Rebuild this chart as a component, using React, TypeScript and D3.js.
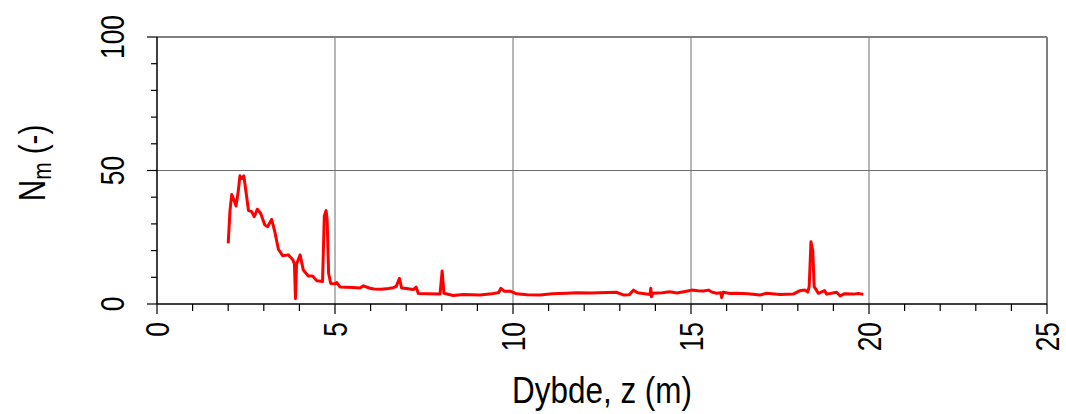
import React from "react";
import * as d3 from "d3";

const depth: number[] = [
  2.0, 2.05, 2.1, 2.16, 2.22, 2.28, 2.33, 2.38, 2.44, 2.5, 2.57, 2.66, 2.73, 2.82, 2.91, 3.03, 3.11, 3.22,
  3.31, 3.41, 3.53, 3.69, 3.81, 3.86, 3.89, 3.92, 4.02, 4.11, 4.25, 4.37, 4.49, 4.65, 4.7, 4.75, 4.78,
  4.82, 4.88, 5.0, 5.05, 5.14, 5.3, 5.51, 5.7, 5.8, 5.98, 6.1, 6.3, 6.5, 6.64, 6.72, 6.81, 6.87, 7.0,
  7.2, 7.28, 7.34, 7.6, 7.95, 8.01, 8.06, 8.32, 8.6, 9.07, 9.4, 9.6, 9.66, 9.75, 9.92, 10.1, 10.4,
  10.76, 11.1, 11.5, 11.8, 12.2, 12.63, 12.9, 13.1, 13.27, 13.38, 13.5, 13.85, 13.87, 13.89, 13.92,
  14.2, 14.4, 14.6, 14.8, 15.02, 15.2, 15.35, 15.49, 15.6, 15.72, 15.84, 15.86, 15.9, 16.1, 16.28,
  16.6, 16.94, 17.12, 17.5, 17.87, 18.06, 18.2, 18.28, 18.32, 18.37, 18.42, 18.46, 18.58, 18.75,
  18.81, 19.09, 19.19, 19.3, 19.56, 19.7, 19.84,
];
const nm: number[] = [
  22.7, 35, 41, 39, 36.7, 42, 48, 47, 48, 42, 35, 34.6, 32.7, 35.5, 34, 29.6, 29, 31.7,
  27, 20.5, 18.1, 18.4, 16.7, 15, 2, 15, 18.4, 12.7, 10.5, 10.5, 8.7, 8.4, 33, 35, 31.5,
  11.5, 7.7, 7.6, 8, 6.4, 6.3, 6.2, 6.0, 6.8, 5.9, 5.6, 5.5, 5.8, 6.1, 6.6, 9.6, 6.0, 5.8,
  5.4, 6.3, 3.9, 3.8, 3.7, 12.4, 4.0, 3.2, 3.6, 3.4, 3.8, 4.3, 5.9, 4.8, 4.8, 3.8, 3.5,
  3.4, 3.8, 4.0, 4.2, 4.1, 4.3, 4.4, 3.4, 3.5, 5.2, 4.2, 3.6, 5.9, 2.7, 4.0,
  4.2, 4.6, 4.1, 4.6, 5.2, 5.0, 4.9, 5.2, 4.4, 4.0, 4.2, 2.4, 4.4, 3.9, 4.0,
  3.8, 3.4, 4.0, 3.6, 3.7, 5.0, 5.2, 4.5, 6.5, 23.3, 20, 6.5, 4.0, 5.0,
  3.7, 4.4, 3.0, 3.8, 3.7, 3.9, 3.6,
];

const xMajorTicks = [0, 5, 10, 15, 20, 25];
const yMajorTicks = [0, 50, 100];
const xTitle = "Dybde, z (m)";

export default function App() {
  const W = 1066, H = 414;
  const left = 157, right = 1047, top = 37, bottom = 304;
  const x = d3.scaleLinear().domain([0, 25]).range([left, right]);
  const y = d3.scaleLinear().domain([0, 100]).range([bottom, top]);
  const pts = depth.map((d, i) => [d, nm[i]] as [number, number]);
  const line = d3.line<[number, number]>().x((d) => x(d[0])).y((d) => y(d[1]));
  const xMinor = d3.range(0, 26, 1);
  const yMinor = d3.range(0, 101, 10);
  const font = "'Liberation Sans', Arial, sans-serif";
  const tickFs = 33;
  const cap = tickFs * 0.716;
  const sx = 0.8;
  return (
    <svg width={W} height={H} style={{ position: "absolute", left: 0, top: 0 }}>
      <rect x={0} y={0} width={W} height={H} fill="#fff" />
      {xMajorTicks.filter((t) => t > 0 && t < 25).map((t) => (
        <line key={"gx" + t} x1={x(t)} x2={x(t)} y1={top} y2={bottom} stroke="#6e6e6e" strokeWidth={1} />
      ))}
      {yMajorTicks.filter((t) => t > 0 && t < 100).map((t) => (
        <line key={"gy" + t} x1={left} x2={right} y1={y(t)} y2={y(t)} stroke="#6e6e6e" strokeWidth={1} />
      ))}
      <line x1={left} x2={right} y1={top} y2={top} stroke="#808080" strokeWidth={2} />
      <line x1={right} x2={right} y1={top} y2={bottom} stroke="#808080" strokeWidth={2} />
      <path d={line(pts) || ""} fill="none" stroke="#ff0000" strokeWidth={3} strokeLinejoin="round" />
      <line x1={left} x2={right} y1={bottom} y2={bottom} stroke="#000" strokeWidth={1.5} />
      <line x1={left} x2={left} y1={top} y2={bottom} stroke="#000" strokeWidth={1.5} />
      {xMinor.map((t) => (
        <line key={"xm" + t} x1={x(t)} x2={x(t)} y1={bottom} y2={bottom + (t % 5 === 0 ? 10 : 7)} stroke="#000" strokeWidth={1.2} />
      ))}
      {yMinor.map((t) => (
        <line key={"ym" + t} x1={left - (t % 50 === 0 ? 10 : 6)} x2={left} y1={y(t)} y2={y(t)} stroke="#000" strokeWidth={1.2} />
      ))}
      {xMajorTicks.map((t) => (
        <text key={"xl" + t} transform={`translate(${x(t) + cap / 2},${bottom + 18}) rotate(-90) scale(${sx},1)`} textAnchor="end"
          fontFamily={font} fontSize={tickFs} fill="#000">{t}</text>
      ))}
      {yMajorTicks.map((t) => (
        <text key={"yl" + t} transform={`translate(${left - 33},${y(t)}) rotate(-90) scale(${sx},1)`} textAnchor="middle"
          fontFamily={font} fontSize={tickFs} fill="#000">{t}</text>
      ))}
      <text transform={`translate(${(left + right) / 2},403) scale(0.85,1)`} textAnchor="middle" fontFamily={font} fontSize={37} fill="#000">{xTitle}</text>
      <text transform={`translate(45,163) rotate(-90) scale(0.8,1)`} textAnchor="middle" fontFamily={font} fontSize={37} fill="#000">
        N<tspan fontSize={26} dy={6}>m</tspan><tspan dy={-6}> (-)</tspan>
      </text>
    </svg>
  );
}
